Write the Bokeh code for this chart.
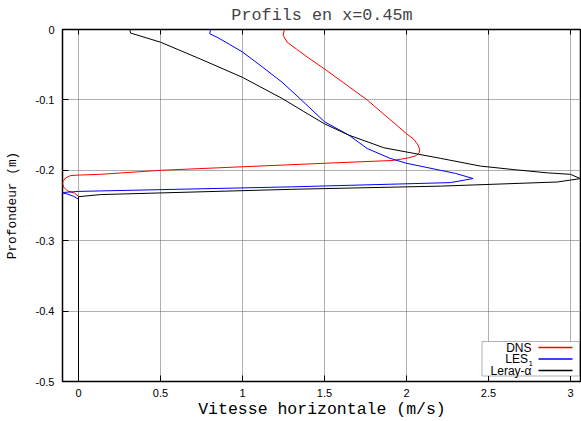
from bokeh.plotting import figure
from bokeh.models import Range1d, FixedTicker, Label, BoxAnnotation
from bokeh.embed import file_html
from bokeh.resources import INLINE

# ---- data ----
dns_v = [1.255, 1.248, 1.272, 1.33, 1.40, 1.50, 1.63, 1.76, 1.88, 2.00, 2.045, 2.07, 2.08, 2.078, 2.06,
         2.02, 1.92, 1.50, 1.00, 0.50, 0.134, 0.0, -0.049, -0.08, -0.095, -0.097, -0.09, -0.069, -0.024, 0.0, 0.0]
dns_d = [0.0, -0.0085, -0.018, -0.028, -0.040, -0.056, -0.078, -0.100, -0.124, -0.148, -0.156, -0.164, -0.170,
         -0.175, -0.179, -0.182, -0.186, -0.190, -0.195, -0.200, -0.2057, -0.2068, -0.2075, -0.211, -0.216,
         -0.219, -0.224, -0.229, -0.2325, -0.237, -0.5]

les_v = [0.805, 0.80, 0.845, 0.92, 1.00, 1.12, 1.242, 1.354, 1.50, 1.648, 1.76, 1.90, 2.00, 2.207, 2.30,
         2.406, 2.268, 1.30, 0.134, 0.0, -0.11, -0.07, -0.03, 0.0, 0.0]
les_d = [0.0, -0.006, -0.011, -0.021, -0.032, -0.053, -0.075, -0.099, -0.131, -0.150, -0.169, -0.183, -0.190,
         -0.200, -0.2045, -0.2117, -0.2175, -0.2235, -0.2293, -0.230, -0.2318, -0.2335, -0.237, -0.241, -0.5]

leray_v = [0.313, 0.317, 0.50, 0.744, 1.00, 1.242, 1.37, 1.50, 1.648, 1.862, 2.00, 2.207, 2.45, 2.654, 2.858,
           3.00, 3.06, 2.92, 2.207, 1.30, 0.134, 0.0, 0.0]
leray_d = [0.0, -0.005, -0.018, -0.042, -0.068, -0.098, -0.116, -0.134, -0.150, -0.168, -0.174, -0.183, -0.194,
           -0.199, -0.2036, -0.2057, -0.2118, -0.2166, -0.2225, -0.227, -0.2345, -0.2375, -0.5]

series_names = ["DNS", "LES", "Leray-\u03b1"]
series_colors = ["#ff0000", "#0000ff", "#000000"]

x_ticks = [0, 0.5, 1, 1.5, 2, 2.5, 3]
x_tick_labels = ["0", "0.5", "1", "1.5", "2", "2.5", "3"]
y_ticks = [0, -0.1, -0.2, -0.3, -0.4, -0.5]
y_tick_labels = ["0", "-0.1", "-0.2", "-0.3", "-0.4", "-0.5"]

title_text = "Profils en x=0.45m"
x_label = "Vitesse horizontale (m/s)"
y_label = "Profondeur (m)"

X0, X1 = -0.0976, 3.067
Y0, Y1 = -0.5, 0.0
FW, FH = 519, 352
FL, FT = 62, 29  # frame left/top on the page (layout only)

def fx(px):
    return X0 + (px - FL) * (X1 - X0) / FW

def fy(py):
    return Y1 - (py - FT) * (Y1 - Y0) / FH

p = figure(width=581, height=421,
           x_range=Range1d(X0, X1), y_range=Range1d(Y0, Y1),
           output_backend="svg", toolbar_location=None,
           min_border_left=62, min_border_right=0, min_border_top=29, min_border_bottom=40,
           title=title_text)

p.background_fill_color = "white"
p.border_fill_color = "white"
p.outline_line_color = "black"
p.outline_line_width = 1.5

p.title.text_font = "Liberation Mono"
p.title.text_font_size = "16.8px"
p.title.text_font_style = "normal"
p.title.align = "center"
p.title.vertical_align = "middle"
p.title.standoff = 8

for ax in (p.xaxis[0], p.yaxis[0]):
    ax.axis_line_color = None
    ax.major_tick_in = 6
    ax.major_tick_out = 0
    ax.major_tick_line_color = "black"
    ax.minor_tick_line_color = None
    ax.major_label_text_font = "Liberation Sans"
    ax.major_label_text_font_size = "11px"
    ax.major_label_text_color = "black"
    ax.axis_label_text_font = "Liberation Mono"
    ax.axis_label_text_font_style = "normal"
    ax.axis_label_text_color = "black"

p.xaxis.ticker = FixedTicker(ticks=x_ticks)
p.xaxis.major_label_overrides = dict(zip(x_ticks, x_tick_labels))
p.xaxis.axis_label = x_label
p.xaxis.axis_label_text_font_size = "16.5px"
p.xaxis.major_label_standoff = 7
p.xaxis.axis_label_standoff = 0

p.yaxis.ticker = FixedTicker(ticks=y_ticks)
p.yaxis.major_label_overrides = dict(zip(y_ticks, y_tick_labels))
p.yaxis.axis_label = y_label
p.yaxis.axis_label_text_font_size = "12.8px"
p.yaxis.major_label_standoff = 8
p.yaxis.axis_label_standoff = 13

for g in (p.xgrid, p.ygrid):
    g.grid_line_color = "#606060"
    g.grid_line_dash = "1 1"
    g.grid_line_width = 1
p.xgrid.ticker = FixedTicker(ticks=x_ticks)
p.ygrid.ticker = FixedTicker(ticks=y_ticks)

# mirrored tick marks on the top border (gnuplot style)
tick_len = 5 * (Y1 - Y0) / FH
p.segment(x0=x_ticks, y0=[Y1] * len(x_ticks), x1=x_ticks, y1=[Y1 - tick_len] * len(x_ticks),
          line_color="black", line_width=1)

p.line(dns_v, dns_d, line_color=series_colors[0], line_width=1)
p.line(les_v, les_d, line_color=series_colors[1], line_width=1)
p.line(leray_v, leray_d, line_color=series_colors[2], line_width=1)

# ---- legend (gnuplot style: text then sample) ----
box = BoxAnnotation(left=fx(481.5), right=fx(579), top=fy(341), bottom=fy(375.5),
                    fill_color="white", fill_alpha=1.0, line_color="black", line_width=1)
p.add_layout(box)

row_y = [347, 358.5, 370]
text_right = 531
for name, color, ry in zip(series_names, series_colors, row_y):
    if name == "LES":
        p.add_layout(Label(x=fx(527.5), y=fy(ry), text=name, text_align="right", text_baseline="middle",
                           text_font="Liberation Sans", text_font_size="12px", text_color="black"))
        p.add_layout(Label(x=fx(528), y=fy(ry + 4), text="1", text_align="left", text_baseline="middle",
                           text_font="Liberation Sans", text_font_size="8px", text_color="black"))
    else:
        p.add_layout(Label(x=fx(text_right), y=fy(ry), text=name, text_align="right", text_baseline="middle",
                           text_font="Liberation Sans", text_font_size="12px", text_color="black"))
    p.line([fx(538), fx(572)], [fy(ry), fy(ry)], line_color=color, line_width=1.5, level="overlay")

open("out.html", "w").write(file_html(p, INLINE))
